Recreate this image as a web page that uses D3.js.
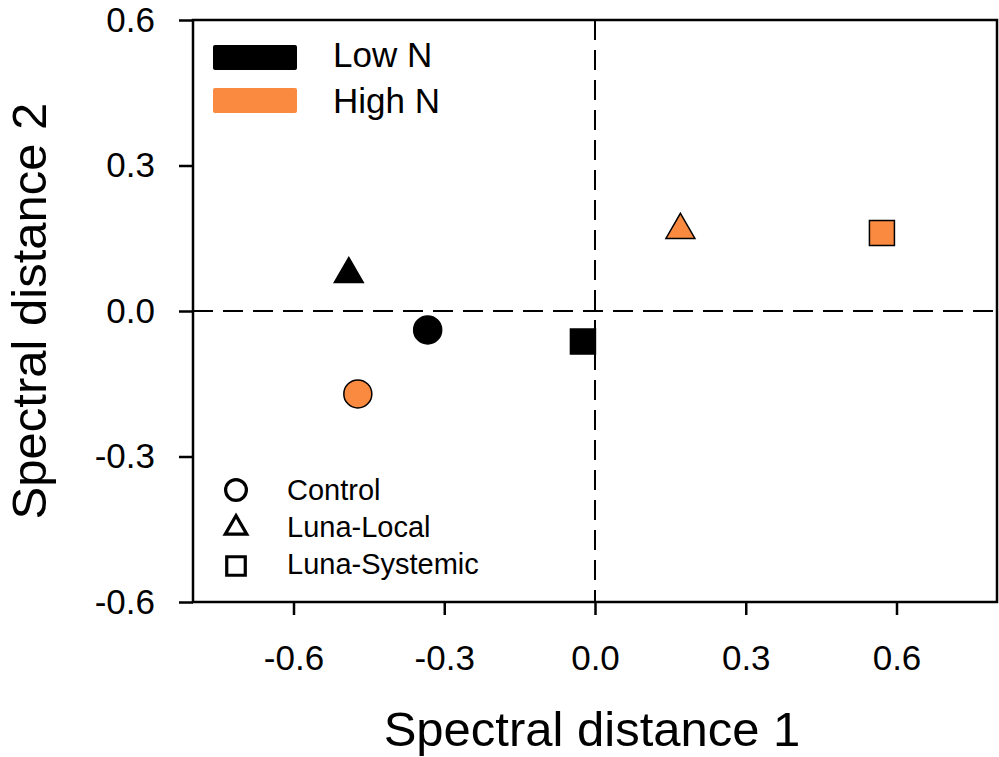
<!DOCTYPE html>
<html>
<head>
<meta charset="utf-8">
<script src="https://cdn.jsdelivr.net/npm/d3@7"></script>
<style>
  body { margin: 0; background: #fff; }
  text { font-family: "Liberation Sans", Arial, sans-serif; fill: #000; }
</style>
</head>
<body>
<svg></svg>
<script>
// data
const treatments = ['Control', 'Luna-Local', 'Luna-Systemic'];
const nLevels = ['Low N', 'High N'];
const pointTreatment = ['Control', 'Luna-Local', 'Luna-Systemic', 'Control', 'Luna-Local', 'Luna-Systemic'];
const pointN = ['Low N', 'Low N', 'Low N', 'High N', 'High N', 'High N'];
const dist1 = [-0.333, -0.49, -0.024, -0.472, 0.170, 0.571];
const dist2 = [-0.039, 0.076, -0.063, -0.171, 0.167, 0.161];
const ticks = [-0.6, -0.3, 0.0, 0.3, 0.6];

const width = 999;
const height = 757;
const margin = { top: 20, right: 2, bottom: 155, left: 193 };

const svg = d3.select('svg')
  .attr('width', width)
  .attr('height', height);

const xScale = d3.scaleLinear()
  .domain([-0.8, 0.8])
  .range([margin.left, width - margin.right]);

const yScale = d3.scaleLinear()
  .domain([-0.6, 0.6])
  .range([height - margin.bottom, margin.top]);

const colour = d3.scaleOrdinal()
  .domain(nLevels)
  .range(['#000000', '#f98a3f']);

const shape = d3.scaleOrdinal()
  .domain(treatments)
  .range([d3.symbolCircle, d3.symbolTriangle, d3.symbolSquare]);

const size = d3.scaleOrdinal()
  .domain(treatments)
  .range([616, 364, 625]);

// plain hyphen, like the original
const fmt = (d) => d3.format('.1f')(d).replace('\u2212', '-');

// zero reference lines
svg.append('line')
  .attr('x1', xScale(-0.8)).attr('x2', xScale(0.8))
  .attr('y1', yScale(0)).attr('y2', yScale(0))
  .attr('stroke', '#000').attr('stroke-width', 2)
  .attr('stroke-dasharray', '20,10');

svg.append('line')
  .attr('x1', xScale(0)).attr('x2', xScale(0))
  .attr('y1', yScale(0.6)).attr('y2', yScale(-0.6))
  .attr('stroke', '#000').attr('stroke-width', 2)
  .attr('stroke-dasharray', '20,10');

// axes
const xAxis = svg.append('g')
  .attr('transform', `translate(0,${yScale(-0.6)})`)
  .call(d3.axisBottom(xScale).tickValues(ticks).tickFormat(fmt).tickSize(13).tickPadding(30));

const yAxis = svg.append('g')
  .attr('transform', `translate(${xScale(-0.8)},0)`)
  .call(d3.axisLeft(yScale).tickValues(ticks).tickFormat(fmt).tickSize(14).tickPadding(24));

[xAxis, yAxis].forEach((g) => {
  g.select('.domain').remove();
  g.selectAll('line').attr('stroke', '#000').attr('stroke-width', 2.5);
  g.selectAll('text')
    .style('font-family', '"Liberation Sans", Arial, sans-serif')
    .attr('font-size', 35);
});
xAxis.selectAll('text').attr('dy', '0.71em');

// frame
svg.append('rect')
  .attr('x', xScale(-0.8))
  .attr('y', yScale(0.6))
  .attr('width', xScale(0.8) - xScale(-0.8))
  .attr('height', yScale(-0.6) - yScale(0.6))
  .attr('fill', 'none')
  .attr('stroke', '#000')
  .attr('stroke-width', 2.5);

// points
const points = dist1.map((d, i) => ({
  x: d, y: dist2[i], treatment: pointTreatment[i], n: pointN[i],
}));

svg.selectAll('path.point')
  .data(points)
  .enter()
  .append('path')
    .attr('class', 'point')
    .attr('transform', (d) => `translate(${xScale(d.x)},${yScale(d.y)})`)
    .attr('d', (d) => d3.symbol().type(shape(d.treatment)).size(size(d.treatment))())
    .attr('fill', (d) => colour(d.n))
    .attr('stroke', '#000')
    .attr('stroke-width', 1.5);

// colour legend
const nLegend = svg.append('g');
nLegend.selectAll('rect')
  .data(nLevels)
  .enter()
  .append('rect')
    .attr('x', 213)
    .attr('y', (d, i) => 45 + i * 43)
    .attr('width', 84)
    .attr('height', 25)
    .attr('rx', 2)
    .attr('fill', (d) => colour(d));
nLegend.selectAll('text')
  .data(nLevels)
  .enter()
  .append('text')
    .attr('x', 333)
    .attr('y', (d, i) => 67 + i * 46)
    .attr('font-size', 35)
    .text((d) => d);

// shape legend
const sLegend = svg.append('g');
sLegend.selectAll('path')
  .data(treatments)
  .enter()
  .append('path')
    .attr('transform', (d, i) => `translate(236,${490 + i * 38})`)
    .attr('d', (d) => d3.symbol().type(shape(d)).size(size(d) * 0.55)())
    .attr('fill', 'none')
    .attr('stroke', '#000')
    .attr('stroke-width', 3.2);
sLegend.selectAll('text')
  .data(treatments)
  .enter()
  .append('text')
    .attr('x', 287)
    .attr('y', (d, i) => 500 + i * 37)
    .attr('font-size', 29)
    .text((d) => d);

// axis titles
svg.append('text')
  .attr('x', (xScale(-0.8) + xScale(0.8)) / 2 - 3)
  .attr('y', 746)
  .attr('text-anchor', 'middle')
  .attr('font-size', 49)
  .text('Spectral distance 1');

svg.append('text')
  .attr('transform', `translate(46,${yScale(0)}) rotate(-90)`)
  .attr('text-anchor', 'middle')
  .attr('font-size', 49)
  .text('Spectral distance 2');
</script>
</body>
</html>
